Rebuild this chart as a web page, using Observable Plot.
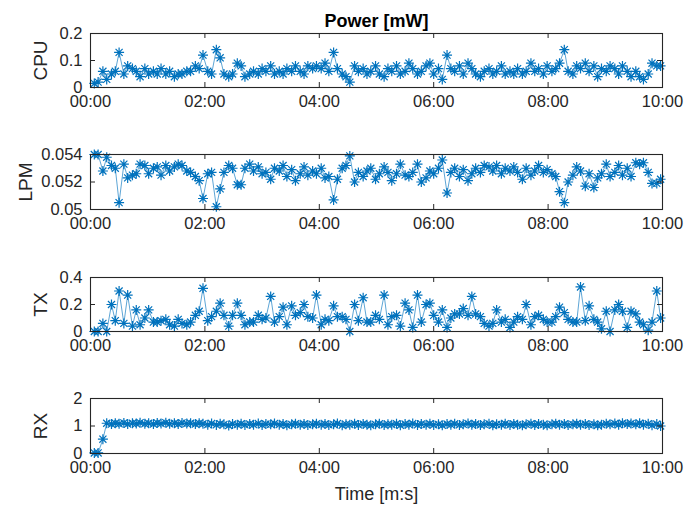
<!DOCTYPE html>
<html>
<head>
<meta charset="utf-8">
<script src="https://cdn.jsdelivr.net/npm/d3@7"></script>
<script src="https://cdn.jsdelivr.net/npm/@observablehq/plot@0.6"></script>
<style>
  html, body { margin: 0; padding: 0; background: #fff; }
  #chart { position: relative; width: 686px; height: 512px; overflow: hidden; background: #fff; }
  #chart svg { position: absolute; left: 0; }
</style>
</head>
<body>
<div id="chart"></div>
<script>
// time of each sample, seconds
const times = [4,8,13,17,22,26,30,35,39,44,48,52,57,61,66,70,74,79,83,88,92,96,101,105,110,114,118,123,127,132,136,140,145,149,154,158,162,167,171,176,180,184,189,193,198,202,206,211,215,220,224,228,233,237,242,246,250,255,259,264,268,272,277,281,286,290,294,299,303,308,312,316,321,325,330,334,338,343,347,352,356,360,365,369,374,378,382,387,391,396,400,404,409,413,418,422,426,431,435,440,444,448,453,457,462,466,470,475,479,484,488,492,497,501,506,510,514,519,523,528,532,536,541,545,550,554,558,563,567,572,576,580,585,589,594,598];

const cpu = [0.015,0.02,0.06,0.03,0.05,0.06,0.13,0.05,0.08,0.07,0.06,0.04,0.07,0.05,0.06,0.05,0.07,0.05,0.06,0.04,0.05,0.05,0.06,0.06,0.08,0.07,0.12,0.06,0.05,0.14,0.11,0.05,0.04,0.05,0.09,0.08,0.04,0.05,0.06,0.05,0.07,0.06,0.08,0.05,0.06,0.05,0.07,0.06,0.08,0.06,0.05,0.08,0.07,0.08,0.07,0.09,0.06,0.13,0.07,0.05,0.04,0.02,0.08,0.06,0.07,0.05,0.06,0.08,0.05,0.04,0.07,0.06,0.08,0.05,0.06,0.09,0.07,0.05,0.06,0.08,0.09,0.05,0.07,0.03,0.12,0.07,0.06,0.08,0.05,0.09,0.07,0.05,0.04,0.06,0.07,0.05,0.06,0.08,0.05,0.06,0.05,0.07,0.05,0.06,0.09,0.06,0.07,0.05,0.08,0.06,0.07,0.09,0.14,0.06,0.05,0.08,0.07,0.09,0.06,0.08,0.04,0.07,0.06,0.08,0.07,0.05,0.08,0.06,0.04,0.06,0.04,0.03,0.05,0.09,0.08,0.08];

const lpm = [0.0540,0.0540,0.0528,0.0538,0.0532,0.0530,0.0505,0.0533,0.0523,0.0525,0.0526,0.0533,0.0532,0.0526,0.0530,0.0531,0.0525,0.0532,0.0528,0.0531,0.0533,0.0532,0.0528,0.0527,0.0524,0.0521,0.0508,0.0526,0.0527,0.0502,0.0515,0.0527,0.0532,0.0530,0.0518,0.0518,0.0530,0.0533,0.0528,0.0531,0.0526,0.0527,0.0522,0.0530,0.0528,0.0532,0.0524,0.0529,0.0521,0.0526,0.0531,0.0525,0.0528,0.0526,0.0530,0.0523,0.0524,0.0507,0.0522,0.0530,0.0532,0.0539,0.0520,0.0527,0.0524,0.0528,0.0530,0.0522,0.0526,0.0531,0.0527,0.0521,0.0526,0.0533,0.0525,0.0524,0.0527,0.0533,0.0520,0.0523,0.0528,0.0526,0.0530,0.0536,0.0512,0.0527,0.0530,0.0524,0.0529,0.0521,0.0526,0.0530,0.0527,0.0532,0.0531,0.0528,0.0532,0.0526,0.0530,0.0528,0.0531,0.0527,0.0522,0.0530,0.0525,0.0528,0.0532,0.0527,0.0529,0.0526,0.0524,0.0513,0.0505,0.0520,0.0525,0.0531,0.0528,0.0517,0.0526,0.0516,0.0523,0.0526,0.0533,0.0524,0.0527,0.0532,0.0525,0.0530,0.0524,0.0534,0.0533,0.0534,0.0527,0.0519,0.0519,0.0522];

const tx = [0.0,0.0,0.06,0.0,0.2,0.08,0.3,0.06,0.27,0.04,0.16,0.05,0.1,0.16,0.07,0.07,0.08,0.09,0.05,0.04,0.09,0.06,0.05,0.07,0.12,0.15,0.32,0.08,0.11,0.15,0.21,0.12,0.04,0.12,0.21,0.12,0.05,0.07,0.07,0.12,0.09,0.1,0.26,0.07,0.11,0.18,0.05,0.19,0.12,0.14,0.2,0.11,0.1,0.27,0.05,0.09,0.08,0.19,0.11,0.11,0.09,0.0,0.2,0.08,0.25,0.07,0.07,0.12,0.09,0.27,0.05,0.11,0.12,0.04,0.21,0.16,0.03,0.27,0.07,0.2,0.21,0.12,0.07,0.16,0.03,0.1,0.13,0.13,0.17,0.12,0.26,0.13,0.11,0.06,0.04,0.06,0.16,0.07,0.09,0.03,0.07,0.11,0.09,0.2,0.05,0.11,0.12,0.09,0.07,0.07,0.11,0.18,0.14,0.09,0.07,0.07,0.33,0.08,0.19,0.09,0.07,0.02,0.15,0.0,0.16,0.2,0.15,0.03,0.15,0.13,0.07,0.05,0.01,0.07,0.3,0.1];

const rx = [0.02,0.02,0.52,1.1,1.07,1.1,1.08,1.11,1.07,1.1,1.09,1.12,1.08,1.1,1.07,1.11,1.09,1.12,1.08,1.1,1.07,1.11,1.09,1.1,1.07,1.1,1.08,1.05,1.09,1.04,1.08,1.06,1.02,1.07,1.05,1.08,1.04,1.07,1.05,1.09,1.04,1.07,1.06,1.09,1.05,1.07,1.03,1.06,1.08,1.05,1.07,1.04,1.06,1.08,1.05,1.07,1.04,1.06,1.09,1.03,1.06,1.05,1.08,1.04,1.07,1.05,1.03,1.06,1.08,1.04,1.06,1.05,1.08,1.03,1.07,1.05,1.09,1.04,1.07,1.05,1.08,1.04,1.06,1.03,1.07,1.05,1.08,1.04,1.06,1.09,1.05,1.07,1.04,1.06,1.08,1.03,1.06,1.05,1.08,1.04,1.07,1.05,1.03,1.06,1.08,1.04,1.07,1.05,1.03,1.06,1.08,1.05,1.07,1.04,1.06,1.08,1.05,1.07,1.04,1.06,1.03,1.05,1.08,1.06,1.09,1.05,1.1,1.07,1.09,1.06,1.1,1.05,1.08,1.03,1.07,1.0];

const xTicks = [0, 120, 240, 360, 480, 600];
const panelNames = ["CPU", "LPM", "TX", "RX"];
const panelValues = [cpu, lpm, tx, rx];
const yDomains = [[0, 0.2], [0.05, 0.054], [0, 0.4], [0, 2]];
const yTicks = [[0, 0.1, 0.2], [0.05, 0.052, 0.054], [0, 0.2, 0.4], [0, 1, 2]];
const titleText = "Power [mW]";
const xLabelText = "Time [m:s]";

const W = 686;
const ML = 90, MR = 24;
const blue = "#0072BD";
const ink = "#262626";
const font = "'Liberation Sans', Arial, Helvetica, sans-serif";
// layout: [svg top, marginTop, plot height, marginBottom]
const layout = [
  [0, 33, 54, 57],
  [144, 10, 55, 58],
  [267, 10, 54, 57],
  [388, 10, 55, 59]
];
const yLabelOffset = [50, 65, 50, 50];

const star = {
  draw(ctx, size) {
    const r = Math.sqrt(size / Math.PI);
    const d = r * Math.SQRT1_2;
    ctx.moveTo(-r, 0); ctx.lineTo(r, 0);
    ctx.moveTo(0, -r); ctx.lineTo(0, r);
    ctx.moveTo(-d, -d); ctx.lineTo(d, d);
    ctx.moveTo(-d, d); ctx.lineTo(d, -d);
  }
};

const fmtTime = d => String(Math.floor(d / 60)).padStart(2, "0") + ":" + String(d % 60).padStart(2, "0");

const chart = document.getElementById("chart");

panelNames.forEach((name, i) => {
  const [top, mt, ph, mb] = layout[i];
  const H = mt + ph + mb;
  const plotW = W - ML - MR;
  const rows = times.map((t, j) => ({t, v: panelValues[i][j]}));
  const marks = [
    Plot.line(rows, {x: "t", y: "v", stroke: blue, strokeWidth: 0.8, strokeOpacity: 0.8}),
    Plot.dot(rows, {x: "t", y: "v", symbol: star, r: 5, stroke: blue, fill: "none", strokeWidth: 1.2}),
    // inward ticks, MATLAB style
    Plot.tickX(xTicks, {x: d => d, insetTop: ph - 5, stroke: ink, strokeWidth: 1}),
    Plot.tickX(xTicks, {x: d => d, insetBottom: ph - 5, stroke: ink, strokeWidth: 1}),
    Plot.tickY(yTicks[i], {y: d => d, insetRight: plotW - 5, stroke: ink, strokeWidth: 1}),
    Plot.tickY(yTicks[i], {y: d => d, insetLeft: plotW - 5, stroke: ink, strokeWidth: 1}),
    Plot.axisX(xTicks, {tickSize: 0, tickPadding: 8, tickFormat: fmtTime, fill: ink, fontSize: 16.5, label: null}),
    Plot.axisY(yTicks[i], {tickSize: 0, tickPadding: 8, fill: ink, fontSize: 16.5, label: null, tickFormat: d => String(d)}),
    Plot.text([name], {frameAnchor: "left", dx: -yLabelOffset[i], rotate: -90, fontSize: 19, fill: ink, textAnchor: "middle"}),
    Plot.frame({stroke: ink, strokeWidth: 1.1})
  ];
  if (i === 0) {
    marks.push(Plot.text([titleText], {frameAnchor: "top", dy: -19, fontSize: 18, fontWeight: "bold", fill: "#000", textAnchor: "middle"}));
  }
  if (i === panelNames.length - 1) {
    marks.push(Plot.text([xLabelText], {frameAnchor: "bottom", dy: 46, fontSize: 18, fill: ink, textAnchor: "middle"}));
  }
  const svg = Plot.plot({
    width: W,
    height: H,
    marginLeft: ML,
    marginRight: MR,
    marginTop: mt,
    marginBottom: mb,
    style: {fontFamily: font, fontSize: "17px", background: "transparent", color: ink, overflow: "visible"},
    x: {domain: [0, 600], axis: null},
    y: {domain: yDomains[i], axis: null},
    marks
  });
  svg.style.top = top + "px";
  chart.appendChild(svg);
});
</script>
</body>
</html>
